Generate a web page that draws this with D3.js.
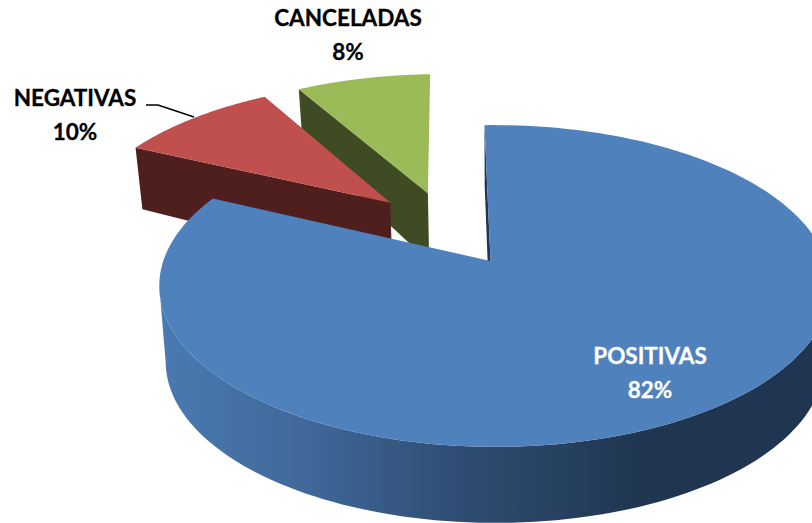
<!DOCTYPE html>
<html>
<head>
<meta charset="utf-8">
<script src="https://cdn.jsdelivr.net/npm/d3@7"></script>
<style>
  html, body { margin: 0; padding: 0; background: #fff; overflow: hidden; }
  text { font-family: Lato, "Open Sans", sans-serif; font-weight: 700; font-size: 22.5px; text-anchor: middle; stroke-width: 0.3px; }
</style>
</head>
<body>
<svg width="812" height="523"></svg>
<script>
const categories = ["POSITIVAS", "NEGATIVAS", "CANCELADAS"];
const values = [82.4, 9.6, 8];

const topColors = ["#4f81bd", "#c0504d", "#9bbb59"];
const faceColors = ["#1f3552", "#4f1f1e", "#3f4b22"];
// how far each slice is pulled out, in disk units
const explodeX = [0, -0.322, -0.203];
const explodeY = [0, -0.396, -0.464];

const svg = d3.select("svg");

// perspective of the pie plane
const view = {x0: 490.5, y0: 261, A: 331.5, B: 157, k: 0.1553, m: 0.013, start: -1.2};

const project = (X, Y) => {
  const w = 1 - view.k * Y - view.m * X;
  return {x: view.x0 + view.A * X / w, y: view.y0 + view.B * Y / w, w: w};
};
// same point on the lower face of the pie
const lower = p => {
  const depth = 76 - 100 * Math.max(0, p.w - 1);
  return {x: p.x + (495 - p.x) * 0.019, y: p.y + depth};
};

const pie = d3.pie().sort(null).value(d => d)
  .startAngle(view.start * Math.PI / 180)
  .endAngle(2 * Math.PI + view.start * Math.PI / 180);
const arcs = pie(values);

const line = d3.line().x(d => d.x).y(d => d.y);

const defs = svg.append("defs");
const wall = defs.append("linearGradient")
  .attr("id", "wall")
  .attr("gradientUnits", "userSpaceOnUse")
  .attr("x1", 160).attr("x2", 812).attr("y1", 0).attr("y2", 0);
[[0, "#4a7ab2"], [0.22, "#40689a"], [0.43, "#315077"], [0.62, "#26405f"], [0.75, "#1f3550"], [1, "#1f3552"]]
  .forEach(s => wall.append("stop").attr("offset", s[0]).attr("stop-color", s[1]));

// green at the back, blue in front
[2, 1, 0].forEach(i => {
  const a = arcs[i];
  const rim = d3.range(0, 181).map(j => {
    const t = a.startAngle + (a.endAngle - a.startAngle) * j / 180;
    return project(Math.sin(t) + explodeX[i], -Math.cos(t) + explodeY[i]);
  });
  const apex = project(explodeX[i], explodeY[i]);
  const g = svg.append("g");

  // outer wall, only the front of the blue one can be seen
  if (i === 0) {
    const front = rim.slice(d3.greatestIndex(rim, p => p.x), d3.leastIndex(rim, p => p.x) + 1);
    g.append("path")
      .attr("d", line(front.concat(front.map(lower).reverse())) + "Z")
      .attr("fill", "url(#wall)");
  }

  // cut face on the start side
  g.append("path")
    .attr("d", line([apex, rim[0], lower(rim[0]), lower(apex)]) + "Z")
    .attr("fill", faceColors[i]);

  // top
  g.append("path")
    .attr("d", line([apex].concat(rim)) + "Z")
    .attr("fill", topColors[i]);
});

// leader line
svg.append("path")
  .attr("d", "M146,105L158,105L194,117")
  .attr("fill", "none")
  .attr("stroke", "#000")
  .attr("stroke-width", 1.5);

// labels
const total = d3.sum(values);
const labelX = [650, 75, 348];
const labelY = [364, 106, 26];
const labelColor = ["#fff", "#000", "#000"];
const lineGap = 34;
categories.forEach((c, i) => {
  svg.append("text").attr("x", labelX[i]).attr("y", labelY[i])
    .attr("fill", labelColor[i]).attr("stroke", labelColor[i]).text(c);
  svg.append("text").attr("x", labelX[i]).attr("y", labelY[i] + lineGap)
    .attr("fill", labelColor[i]).attr("stroke", labelColor[i])
    .text(Math.round(values[i] / total * 100) + "%");
});
</script>
</body>
</html>
